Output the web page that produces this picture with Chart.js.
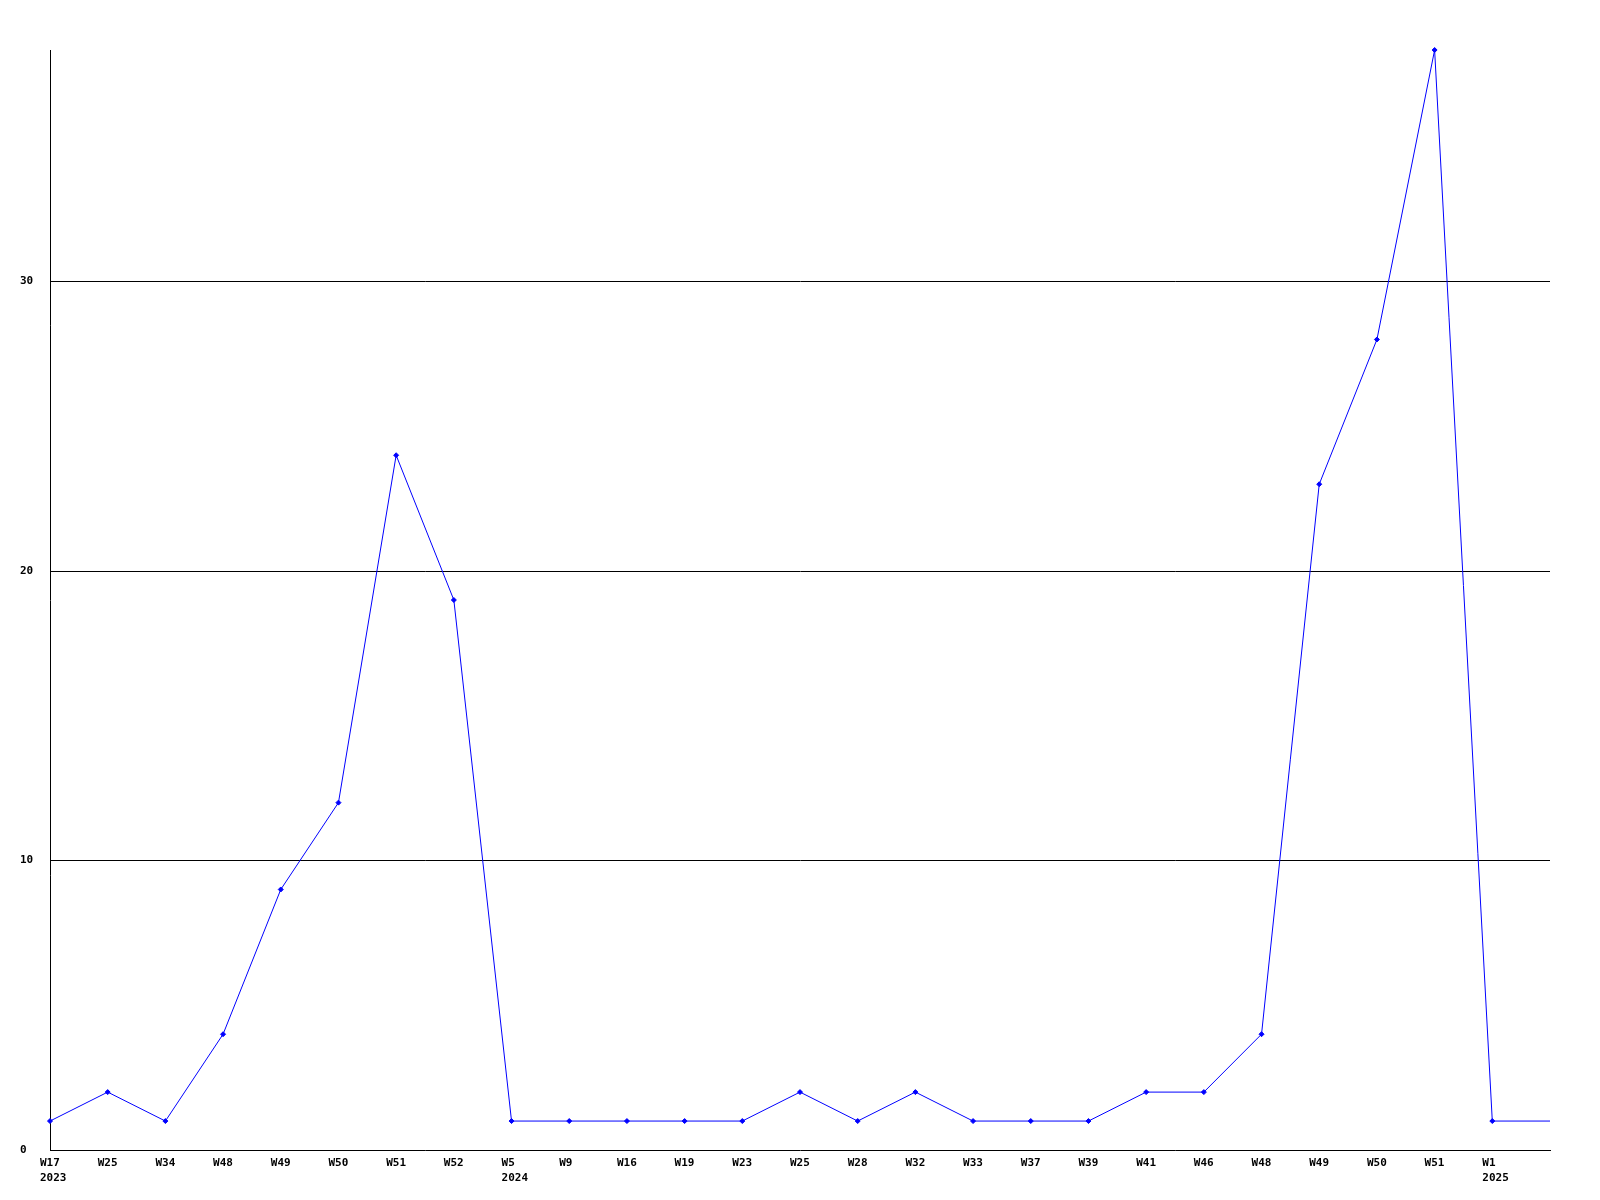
<!DOCTYPE html>
<html>
<head>
<meta charset="utf-8">
<script src="https://cdn.jsdelivr.net/npm/chart.js@4/dist/chart.umd.min.js"></script>
<style>
html,body{margin:0;padding:0;background:#fff;}
#wrap{width:1600px;height:1200px;position:relative;}
</style>
</head>
<body>
<div id="wrap"><canvas id="c" width="1600" height="1200"></canvas></div>
<script>
const weekLabels = ['W17','W25','W34','W48','W49','W50','W51','W52','W5','W9','W16','W19','W23','W25','W28','W32','W33','W37','W39','W41','W46','W48','W49','W50','W51','W1',''];
const yearLabels = ['2023','','','','','','','','2024','','','','','','','','','','','','','','','','','2025',''];
const counts = [1,2,1,4,9,12,24,19,1,1,1,1,1,2,1,2,1,1,1,2,2,4,23,28,38,1,1];
const yTickValues = [0,10,20,30];
const yMax = 38;

const FONT = 'bold 11px "DejaVu Sans Mono", "Liberation Mono", monospace';

const labelPlugin = {
  id: 'customLabels',
  afterDraw(chart) {
    const ctx = chart.ctx;
    const xs = chart.scales.x, ys = chart.scales.y;
    ctx.save();
    ctx.font = FONT;
    ctx.fillStyle = '#000';
    ctx.textBaseline = 'middle';
    ctx.textAlign = 'left';
    weekLabels.forEach((l, i) => {
      const px = xs.getPixelForValue(i);
      if (l) ctx.fillText(l, px - 10, ys.bottom + 13);
      if (yearLabels[i]) ctx.fillText(yearLabels[i], px - 10, ys.bottom + 28);
    });
    yTickValues.forEach(v => {
      ctx.fillText(String(v), 20, ys.getPixelForValue(v));
    });
    ctx.restore();
  }
};

new Chart(document.getElementById('c'), {
  type: 'line',
  data: {
    labels: weekLabels,
    datasets: [{
      data: counts,
      borderColor: '#0000ff',
      backgroundColor: '#0000ff',
      borderWidth: 1,
      pointStyle: 'rectRot',
      pointRadius: ctx => (weekLabels[ctx.dataIndex] ? 2.5 : 0),
      pointHoverRadius: 0,
      pointBorderWidth: 1,
      tension: 0,
      fill: false,
      clip: false
    }]
  },
  options: {
    responsive: false,
    animation: false,
    events: [],
    layout: { padding: { left: 50, right: 50, top: 50, bottom: 50 } },
    plugins: { legend: { display: false }, tooltip: { enabled: false } },
    scales: {
      x: {
        type: 'category',
        offset: false,
        grid: { display: false, drawTicks: false },
        border: { display: true, color: '#000', width: 1 },
        ticks: { display: false }
      },
      y: {
        min: 0,
        max: yMax,
        ticks: { display: false, stepSize: 10 },
        grid: {
          drawTicks: false,
          color: ctx => ([10,20,30].includes(ctx.tick && ctx.tick.value) ? '#000' : 'rgba(0,0,0,0)'),
          lineWidth: 1
        },
        border: { display: true, color: '#000', width: 1 }
      }
    }
  },
  plugins: [labelPlugin]
});
</script>
</body>
</html>
